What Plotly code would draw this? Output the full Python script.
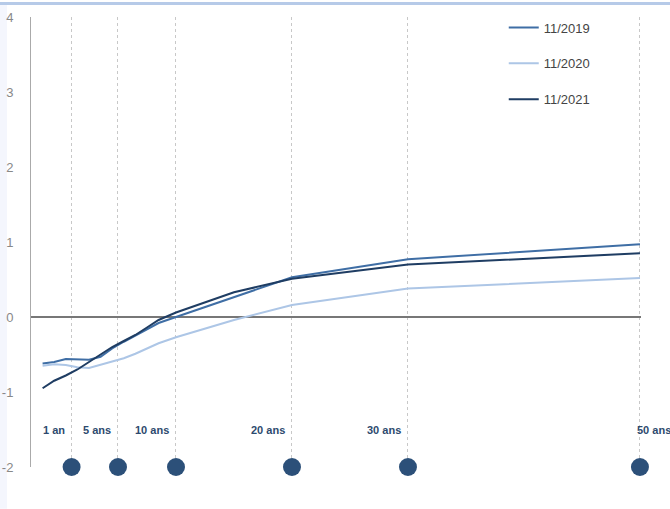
import plotly.graph_objects as go

# Yield curves (x = maturity in years)
curve_x = [-1.5, -0.5, 0.5, 1.5, 2.5, 3.5, 4.5, 5.5, 6.5, 7.5, 8.5, 10, 15, 20, 30, 50]
y_2019 = [-0.62, -0.60, -0.56, -0.57, -0.57, -0.53, -0.42, -0.33, -0.25, -0.16, -0.08, 0.00, 0.27, 0.53, 0.77, 0.97]
y_2020 = [-0.65, -0.63, -0.64, -0.67, -0.68, -0.64, -0.59, -0.55, -0.49, -0.42, -0.35, -0.27, -0.04, 0.16, 0.38, 0.52]
y_2021 = [-0.95, -0.85, -0.78, -0.70, -0.60, -0.50, -0.40, -0.32, -0.24, -0.14, -0.04, 0.06, 0.33, 0.51, 0.70, 0.85]

series_names = ["11/2019", "11/2020", "11/2021"]
series_colors = ["#3f6ea5", "#adc6e6", "#1f3d63"]

# Maturity markers
mat_vals = [1, 5, 10, 20, 30, 50]
mat_labels = ["1 an", "5 ans", "10 ans", "20 ans", "30 ans", "50 ans"]
label_anchor = ["right"] * 5 + ["left"]

y_ticks = [-2, -1, 0, 1, 2, 3, 4]
y_ticktext = ["-2", "-1", "0", "1", "2", "3", "4"]

fig = go.Figure()
for name, ys, col in zip(series_names, [y_2019, y_2020, y_2021], series_colors):
    fig.add_trace(go.Scatter(x=curve_x, y=ys, mode="lines", name=name,
                             line=dict(color=col, width=2), legendgroup=name))

fig.add_trace(go.Scatter(x=mat_vals, y=[-2] * len(mat_vals), mode="markers",
                         marker=dict(size=18, color="#2c5079"), showlegend=False,
                         cliponaxis=False, hoverinfo="skip"))

for xv, lab, anc in zip(mat_vals, mat_labels, label_anchor):
    fig.add_annotation(x=xv, y=-1.5, text="<b>" + lab + "</b>", showarrow=False,
                       xanchor=anc, yanchor="middle", xshift=-5,
                       font=dict(family="Liberation Sans, Arial", size=11, color="#2d4a6e"))

fig.update_layout(
    width=670, height=509,
    margin=dict(l=31, r=29, t=15, b=42),
    paper_bgcolor="white", plot_bgcolor="white",
    font=dict(family="Liberation Sans, Arial", size=13, color="#444"),
    showlegend=True,
    legend=dict(x=0.775, y=1.01, xanchor="left", yanchor="top",
                bgcolor="rgba(0,0,0,0)", tracegroupgap=16,
                font=dict(size=13, color="#444")),
    xaxis=dict(range=[-2.5, 50.09], tickvals=mat_vals, showticklabels=False,
               showgrid=True, gridcolor="#c8c8c8", griddash="dot", gridwidth=1,
               zeroline=False, showline=False, ticks="", automargin=False),
    yaxis=dict(range=[-2, 4], tickvals=y_ticks, ticktext=y_ticktext, showgrid=False,
               zeroline=True, zerolinecolor="#777", zerolinewidth=2,
               showline=True, linecolor="#aaa", linewidth=1, ticks="",
               ticklabelstandoff=14, automargin=False,
               tickfont=dict(size=13, color="#888")),
)

# decorative frame bands (top blue strip, faint left strip)
fig.add_shape(type="rect", xref="paper", yref="paper",
              x0=-31 / 610, x1=(670 - 31) / 610, y0=1 + 12 / 452, y1=1 + 15 / 452,
              fillcolor="#b6cae8", line=dict(width=0), layer="below")
fig.add_shape(type="rect", xref="paper", yref="paper",
              x0=-31 / 610, x1=-24 / 610, y0=-42 / 452, y1=1 + 12 / 452,
              fillcolor="#f4f6fd", line=dict(width=0), layer="below")

fig.write_html("out.html")
